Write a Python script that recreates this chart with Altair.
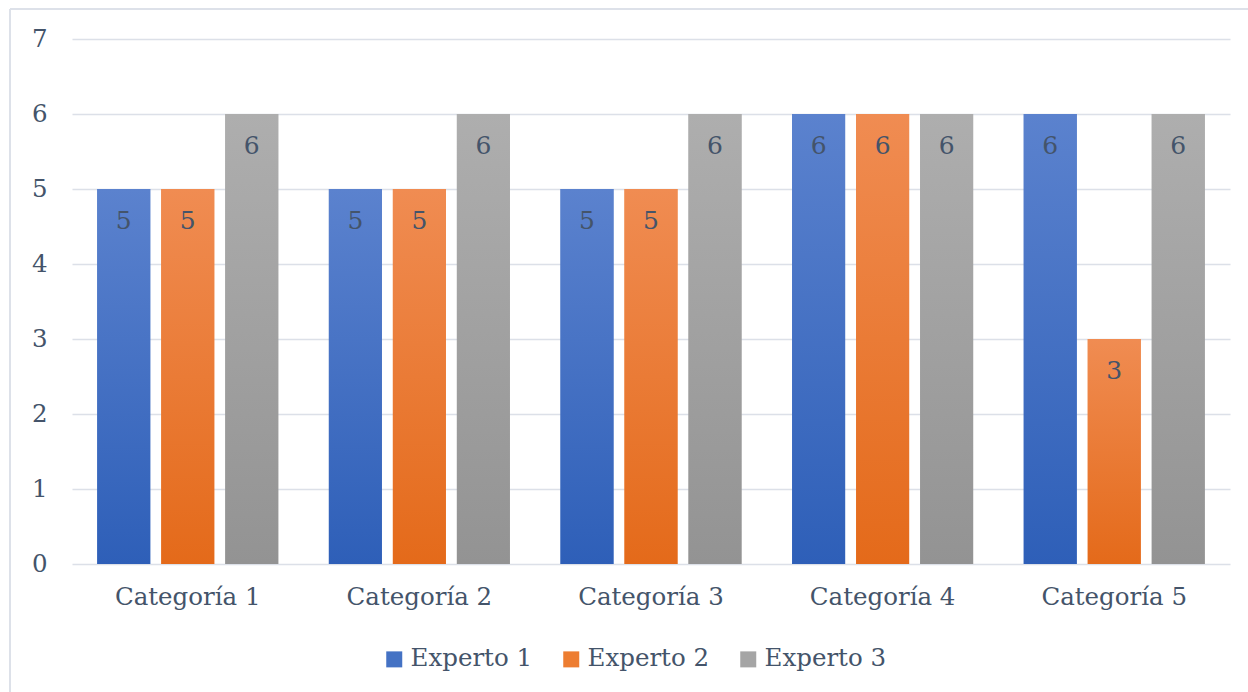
import altair as alt
import pandas as pd

categorias = ["Categoría 1", "Categoría 2", "Categoría 3", "Categoría 4", "Categoría 5"]
series = ["Experto 1", "Experto 2", "Experto 3"]
experto1 = [5, 5, 5, 6, 6]
experto2 = [5, 5, 5, 6, 3]
experto3 = [6, 6, 6, 6, 6]

rows = []
for serie, vals in zip(series, [experto1, experto2, experto3]):
    for c, v in zip(categorias, vals):
        rows.append({"Categoria": c, "Serie": serie, "Valor": v})
df = pd.DataFrame(rows)

FONT = "DejaVu Serif"
TXT = "#44546A"
GRID = "#DCE0E8"

def grad(top, bottom):
    return {"gradient": "linear", "x1": 0, "y1": 0, "x2": 0, "y2": 1,
            "stops": [{"offset": 0, "color": top}, {"offset": 1, "color": bottom}]}

g1 = grad("#5B82CE", "#2E5FB8")
g2 = grad("#F08C52", "#E46A1A")
g3 = grad("#AEAEAE", "#939393")

x = alt.X("Categoria:N", sort=categorias, title=None,
          scale=alt.Scale(paddingInner=0.2185, paddingOuter=0.109),
          axis=alt.Axis(labelAngle=0, labelFont=FONT, labelFontSize=24.5, labelColor=TXT,
                        labelPadding=21, ticks=False, domain=False, grid=False))
xo = alt.XOffset("Serie:N", sort=series,
                 scale=alt.Scale(domain=series, paddingInner=0.172, paddingOuter=0))
y = alt.Y("Valor:Q", title=None,
          scale=alt.Scale(domain=[0, 7], nice=False),
          axis=alt.Axis(values=list(range(8)), labelFont=FONT, labelFontSize=24.5, labelColor=TXT,
                        labelPadding=25, ticks=False, domain=False,
                        gridColor=GRID, gridWidth=1.5))

base = alt.Chart(df).mark_bar().encode(
    x=x, xOffset=xo, y=y,
    color=alt.Color("Serie:N", sort=series,
                    scale=alt.Scale(domain=series, range=["#4472C4", "#ED7D31", "#A5A5A5"]),
                    legend=alt.Legend(title=None, orient="none", direction="horizontal",
                                      legendX=310, legendY=608,
                                      labelFont=FONT, labelFontSize=24.5, labelColor=TXT,
                                      symbolType="square", symbolSize=256, symbolStrokeWidth=0,
                                      columnPadding=26, labelOffset=4))
)

overlay = alt.Chart(df).mark_bar().encode(
    x=x, xOffset=xo, y=y,
    color=alt.value(g3, condition=[
        {"test": "datum.Serie === 'Experto 1'", "value": g1},
        {"test": "datum.Serie === 'Experto 2'", "value": g2},
    ])
)

labels = alt.Chart(df).mark_text(font=FONT, fontSize=25, color=TXT, baseline="middle", dy=32).encode(
    x=x, xOffset=xo, y=y, text="Valor:Q"
)

border_top = alt.Chart(df).mark_rule(color=GRID, strokeWidth=1.5).encode(
    x=alt.value(-62), x2=alt.value(1200), y=alt.value(-30))
border_left = alt.Chart(df).mark_rule(color=GRID, strokeWidth=1.5).encode(
    x=alt.value(-62), y=alt.value(-30), y2=alt.value(700))

chart = alt.layer(base, overlay, labels, border_top, border_left).properties(
    width=1158, height=525,
    padding={"left": 72, "top": 39, "right": 18, "bottom": 128},
    autosize=alt.AutoSizeParams(type="none"),
).configure(background="white").configure_view(strokeWidth=0)

chart.save("out.html", embed_options={"renderer": "svg", "actions": False})
